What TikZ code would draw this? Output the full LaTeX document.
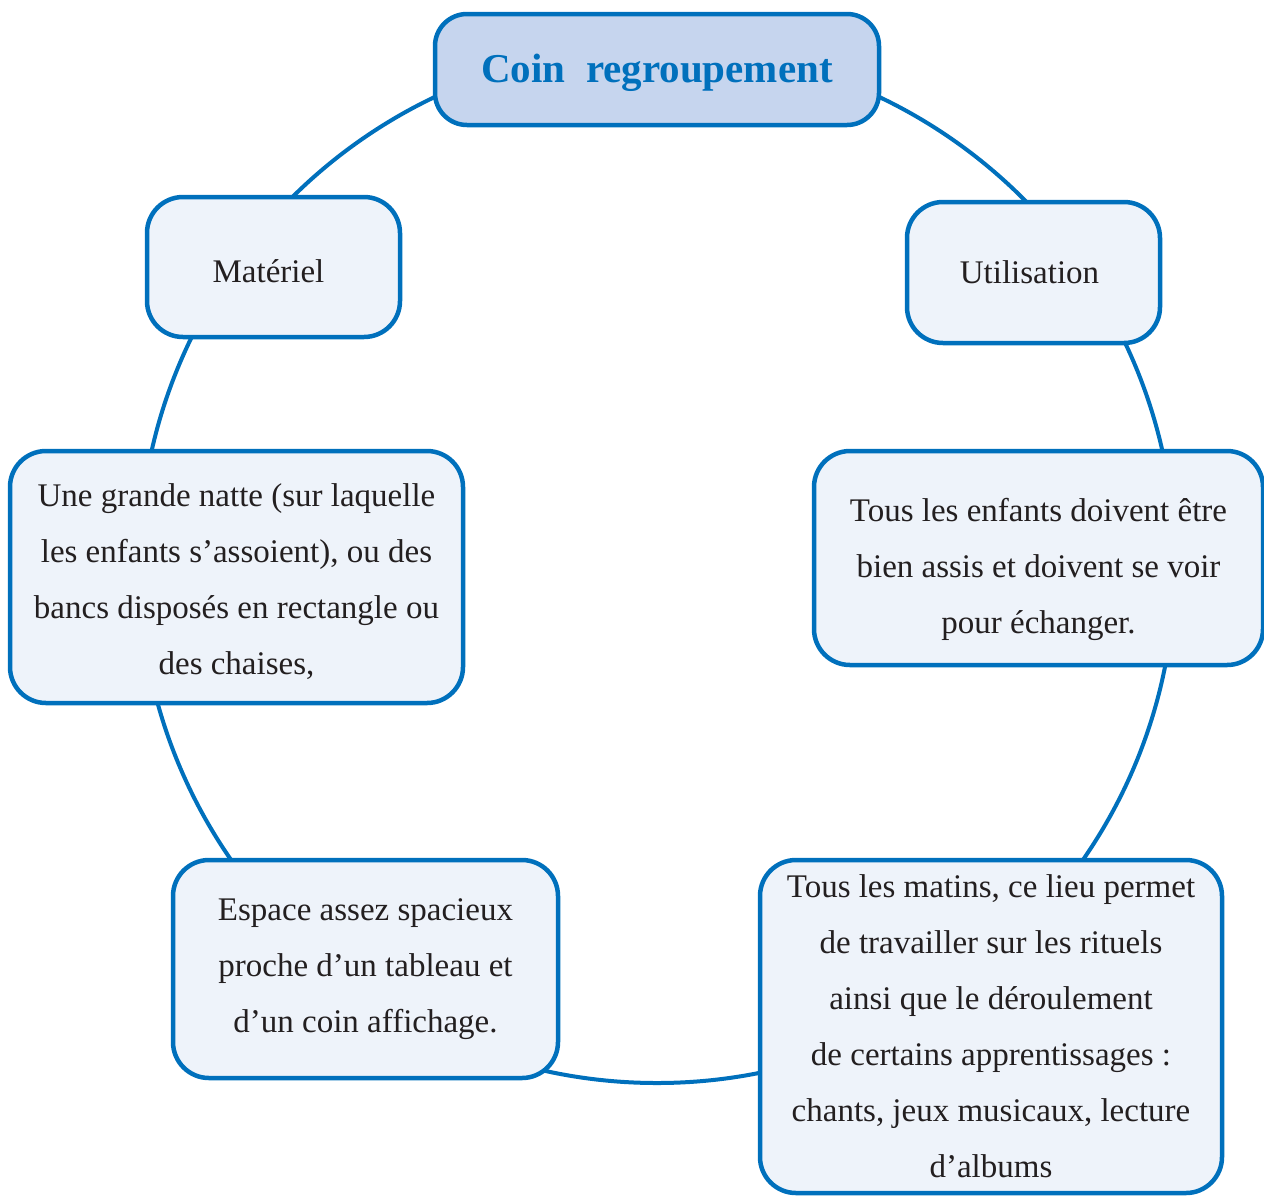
\documentclass[tikz,border=0pt]{standalone}
\usepackage{fontspec}
\setmainfont{Liberation Serif}
\definecolor{rim}{HTML}{0070BC}
\definecolor{boxfill}{HTML}{EEF3FA}
\definecolor{titlefill}{HTML}{C6D5EE}
\definecolor{ink}{HTML}{231F20}
\newcommand\lowerby[1]{\rule{0pt}{#1}}
\begin{document}
\begin{tikzpicture}[x=1pt,y=-1pt,
  ring/.style={draw=rim,line width=4pt},
  card/.style={draw=rim,line width=4.5pt,fill=boxfill,rounded corners=36pt,
    inner sep=0pt,align=center,text=ink,font=\fontsize{33}{56}\selectfont},
  titlecard/.style={card,fill=titlefill,rounded corners=32pt,text=rim,
    font=\fontsize{41}{48}\selectfont\bfseries}]
\useasboundingbox (0,0) rectangle (1264,1195);
\draw[ring] (657,565) circle [radius=518pt];
\node[titlecard,minimum width=444pt,minimum height=111pt] (title) at (657,69.5) {\lowerby{36pt}Coin~~regroupement};
\node[card,minimum width=253pt,minimum height=140pt] (mat) at (273.5,267) {\lowerby{32pt}Matériel\hspace*{10pt}};
\node[card,minimum width=253pt,minimum height=141pt] (util) at (1033.5,272.5) {Utilisation\hspace*{8pt}};
\node[card,minimum width=453pt,minimum height=252pt] (natte) at (236.5,577) {\lowerby{33pt}Une grande natte (sur laquelle\\les enfants s’assoient), ou des\\bancs disposés en rectangle ou\\des chaises,};
\node[card,minimum width=449pt,minimum height=214pt] (assis) at (1038.5,558) {\lowerby{46pt}Tous les enfants doivent être\\bien assis et doivent se voir\\pour échanger.};
\node[card,minimum width=385pt,minimum height=218pt] (espace) at (365.5,969) {Espace assez spacieux\\proche d’un tableau et\\d’un coin affichage.};
\node[card,minimum width=462pt,minimum height=333pt] (matins) at (991,1026.5) {Tous les matins, ce lieu permet\\de travailler sur les rituels\\ainsi que le déroulement\\de certains apprentissages :\\chants, jeux musicaux, lecture\\d’albums};
\end{tikzpicture}
\end{document}
